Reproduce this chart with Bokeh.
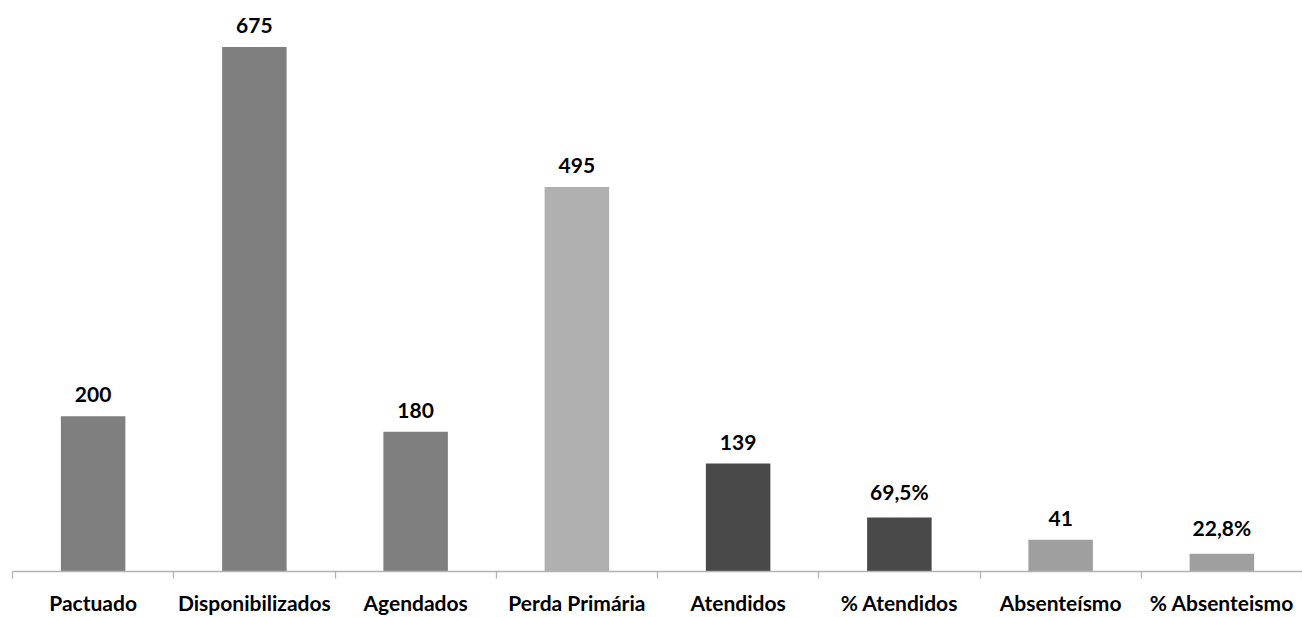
from bokeh.plotting import figure
from bokeh.models import ColumnDataSource, Range1d, LinearAxis, FixedTicker
from bokeh.core.properties import value
from bokeh.embed import file_html
from bokeh.resources import INLINE

categories = ["Pactuado", "Disponibilizados", "Agendados", "Perda Primária",
              "Atendidos", "% Atendidos", "Absenteísmo", "% Absenteismo"]
values = [200, 675, 180, 495, 139, 69.5, 41, 22.8]
value_labels = ["200", "675", "180", "495", "139", "69,5%", "41", "22,8%"]
colors = ["#7f7f7f", "#7f7f7f", "#7f7f7f", "#b0b0b0",
          "#494949", "#494949", "#9f9f9f", "#9f9f9f"]

n = len(categories)
centers = [i + 0.5 for i in range(n)]
edges = [float(i) for i in range(n + 1)]
src = ColumnDataSource(dict(x=centers, val=values, lab=value_labels, col=colors))

FONT = "Lato"

p = figure(width=1302, height=617, output_backend="svg", toolbar_location=None,
           x_range=Range1d(0, n), y_range=Range1d(0, 735),
           x_axis_location=None, y_axis_location=None,
           min_border_left=12, min_border_right=0, min_border_top=0,
           min_border_bottom=44)
p.outline_line_color = None
p.xgrid.visible = False
p.ygrid.visible = False

p.vbar(x="x", top="val", width=0.4, source=src, fill_color="col", line_color=None)
p.text(x="x", y="val", text="lab", source=src, text_align="center",
       text_baseline="bottom", y_offset=-14, text_font=value(FONT),
       text_font_style="bold", text_font_size="21px", text_color="#000000")

axis = LinearAxis(ticker=FixedTicker(ticks=centers, minor_ticks=edges),
                  major_label_overrides={c: lab for c, lab in zip(centers, categories)},
                  major_tick_line_color=None, major_tick_out=0, major_tick_in=0,
                  minor_tick_line_color="#b3b3b3", minor_tick_out=7, minor_tick_in=0,
                  minor_tick_line_width=1.3,
                  axis_line_color="#b3b3b3", axis_line_width=1.3,
                  major_label_text_font=FONT,
                  major_label_text_font_style="bold",
                  major_label_text_font_size="21px",
                  major_label_text_color="#000000",
                  major_label_standoff=11)
p.add_layout(axis, "below")

open("out.html", "w").write(file_html(p, INLINE))
